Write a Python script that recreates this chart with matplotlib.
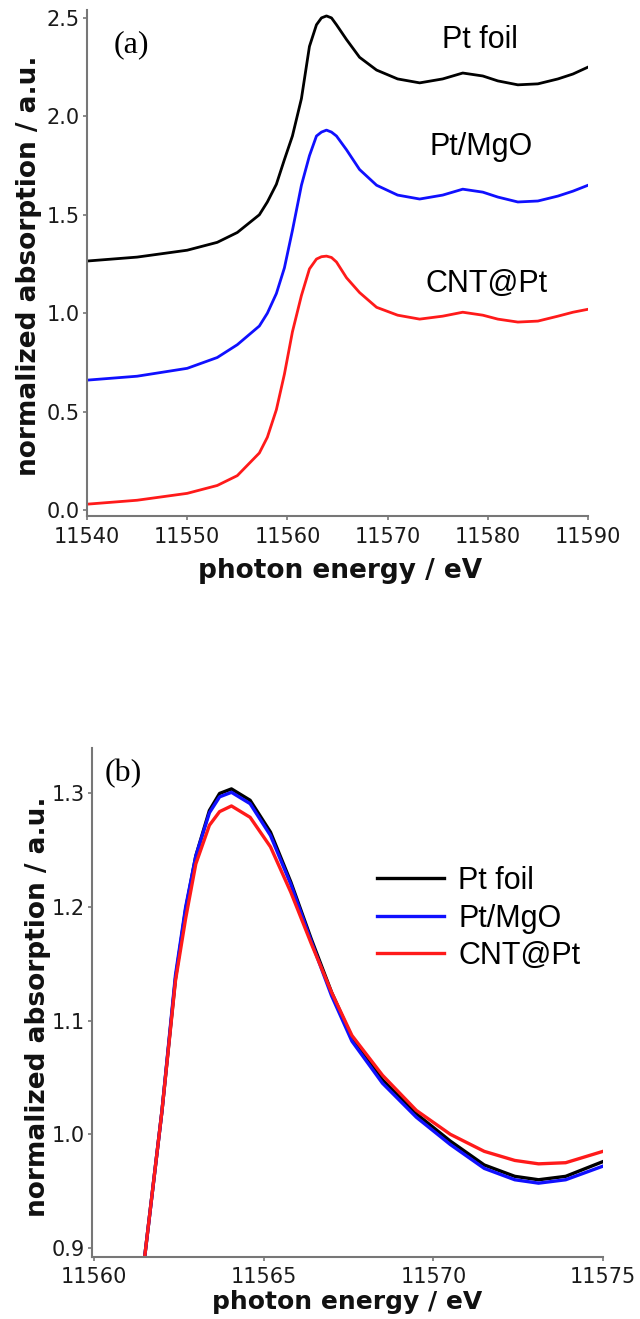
import matplotlib
matplotlib.use("Agg")
import matplotlib.pyplot as plt

# panel (a): full XANES spectra (offset)
energy_a = [11540, 11545, 11550, 11553, 11555, 11557.2, 11558, 11558.9, 11559.7, 11560.5,
            11561.4, 11562.2, 11562.9, 11563.4, 11563.9, 11564.4, 11564.9, 11565.9, 11567.2, 11568.9,
            11571, 11573.2, 11575.5, 11577.5, 11579.5, 11581, 11583, 11585, 11587, 11588.5, 11590]
foil_a = [1.265, 1.285, 1.32, 1.36, 1.41, 1.50, 1.565, 1.655, 1.78, 1.90,
          2.09, 2.355, 2.465, 2.50, 2.51, 2.50, 2.465, 2.39, 2.30, 2.235,
          2.19, 2.17, 2.19, 2.22, 2.205, 2.18, 2.16, 2.165, 2.19, 2.215, 2.25]
mgo_a = [0.66, 0.68, 0.72, 0.775, 0.84, 0.935, 1.0, 1.10, 1.23, 1.42,
         1.65, 1.80, 1.90, 1.92, 1.93, 1.92, 1.90, 1.83, 1.73, 1.65,
         1.60, 1.58, 1.60, 1.63, 1.615, 1.59, 1.565, 1.57, 1.595, 1.62, 1.65]
cnt_a = [0.03, 0.05, 0.085, 0.125, 0.175, 0.29, 0.37, 0.51, 0.69, 0.905,
         1.09, 1.225, 1.275, 1.287, 1.29, 1.283, 1.26, 1.18, 1.105, 1.03,
         0.99, 0.97, 0.985, 1.005, 0.99, 0.97, 0.955, 0.96, 0.985, 1.005, 1.02]

# panel (b): white-line region
energy_b = [11561.5, 11562.0, 11562.4, 11562.7, 11563.0, 11563.4, 11563.7, 11564.05, 11564.6, 11565.2,
            11565.8, 11566.4, 11567.0, 11567.6, 11568.5, 11569.5, 11570.5, 11571.5, 11572.4, 11573.1,
            11573.9, 11575.0]
foil_b = [0.894, 1.02, 1.137, 1.198, 1.245, 1.285, 1.300, 1.304, 1.294, 1.266,
          1.222, 1.172, 1.125, 1.085, 1.048, 1.018, 0.994, 0.973, 0.963, 0.960,
          0.963, 0.976]
mgo_b = [0.894, 1.02, 1.14, 1.20, 1.245, 1.283, 1.297, 1.301, 1.291, 1.263,
         1.22, 1.17, 1.122, 1.082, 1.045, 1.015, 0.991, 0.970, 0.960, 0.957,
         0.960, 0.972]
cnt_b = [0.894, 1.02, 1.135, 1.19, 1.238, 1.272, 1.284, 1.289, 1.279, 1.253,
         1.213, 1.168, 1.125, 1.087, 1.052, 1.021, 1.000, 0.985, 0.977, 0.974,
         0.975, 0.985]

names = ["Pt foil", "Pt/MgO", "CNT@Pt"]
colors = ["black", "#1010ff", "#ff1a1a"]

spine_col = "#777777"
tick_font = dict(family="DejaVu Sans", size=15, color="#1a1a1a")
label_font = dict(family="DejaVu Sans", size=19, weight="bold", color="#111111")


def style(ax, xpad):
    for s in ["top", "right"]:
        ax.spines[s].set_visible(False)
    for s in ["left", "bottom"]:
        ax.spines[s].set_color(spine_col)
        ax.spines[s].set_linewidth(1.5)
    ax.tick_params(direction="out", length=3, width=1.2, color=spine_col, pad=2)
    ax.tick_params(axis="x", pad=xpad)
    for lab in ax.get_xticklabels() + ax.get_yticklabels():
        lab.set_fontfamily(tick_font["family"])
        lab.set_fontsize(tick_font["size"])
        lab.set_color(tick_font["color"])


fig = plt.figure(figsize=(6.4, 13.19), dpi=100)

# (a)
ax1 = fig.add_axes([87 / 640, 0.6088, 501 / 640, 0.3836])
for y, c in zip([foil_a, mgo_a, cnt_a], colors):
    ax1.plot(energy_a, y, color=c, lw=2.0)
ax1.set_xlim(11540, 11590)
ax1.set_ylim(-0.03, 2.54)
ax1.set_xticks([11540, 11550, 11560, 11570, 11580, 11590])
ax1.set_yticks([0.0, 0.5, 1.0, 1.5, 2.0, 2.5])
ax1.set_yticklabels(["0.0", "0.5", "1.0", "1.5", "2.0", "2.5"])
style(ax1, 5)
ax1.set_xlabel("photon energy / eV", **label_font)
ax1.set_ylabel("normalized absorption / a.u.", **label_font)
ax1.xaxis.set_label_coords(0.506, -0.083)
ax1.yaxis.set_label_coords(-0.09, 0.494)
ax1.text(0.054, 0.931, "(a)", transform=ax1.transAxes, family="Liberation Serif",
         fontsize=23, va="center", ha="left")
for name, tx, ty in zip(names, [11575.4, 11574.2, 11573.8], [2.39, 1.845, 1.15]):
    ax1.text(tx, ty, name, family="Liberation Sans", fontsize=22, va="center", ha="left")

# (b)
ax2 = fig.add_axes([92 / 640, 0.047, 511 / 640, 0.3859])
for y, c, n in zip([foil_b, mgo_b, cnt_b], colors, names):
    ax2.plot(energy_b, y, color=c, lw=2.4, label=n)
ax2.set_xlim(11559.94, 11575)
ax2.set_ylim(0.892, 1.34)
ax2.set_xticks([11560, 11565, 11570, 11575])
ax2.set_yticks([0.9, 1.0, 1.1, 1.2, 1.3])
ax2.set_yticklabels(["0.9", "1.0", "1.1", "1.2", "1.3"])
style(ax2, 4)
ax2.set_xlabel("photon energy / eV", **dict(label_font, size=18))
ax2.set_ylabel("normalized absorption / a.u.", **label_font)
ax2.xaxis.set_label_coords(0.5, -0.064)
ax2.yaxis.set_label_coords(-0.08, 0.491)
ax2.text(0.025, 0.949, "(b)", transform=ax2.transAxes, family="Liberation Serif",
         fontsize=23, va="center", ha="left")
ax2.legend(loc="center left", bbox_to_anchor=(0.558, 0.665), frameon=False,
           borderpad=0, borderaxespad=0,
           handlelength=2.2, handletextpad=0.45, labelspacing=0.25,
           prop=dict(family="Liberation Sans", size=22))

fig.savefig("out.png", dpi=100)
